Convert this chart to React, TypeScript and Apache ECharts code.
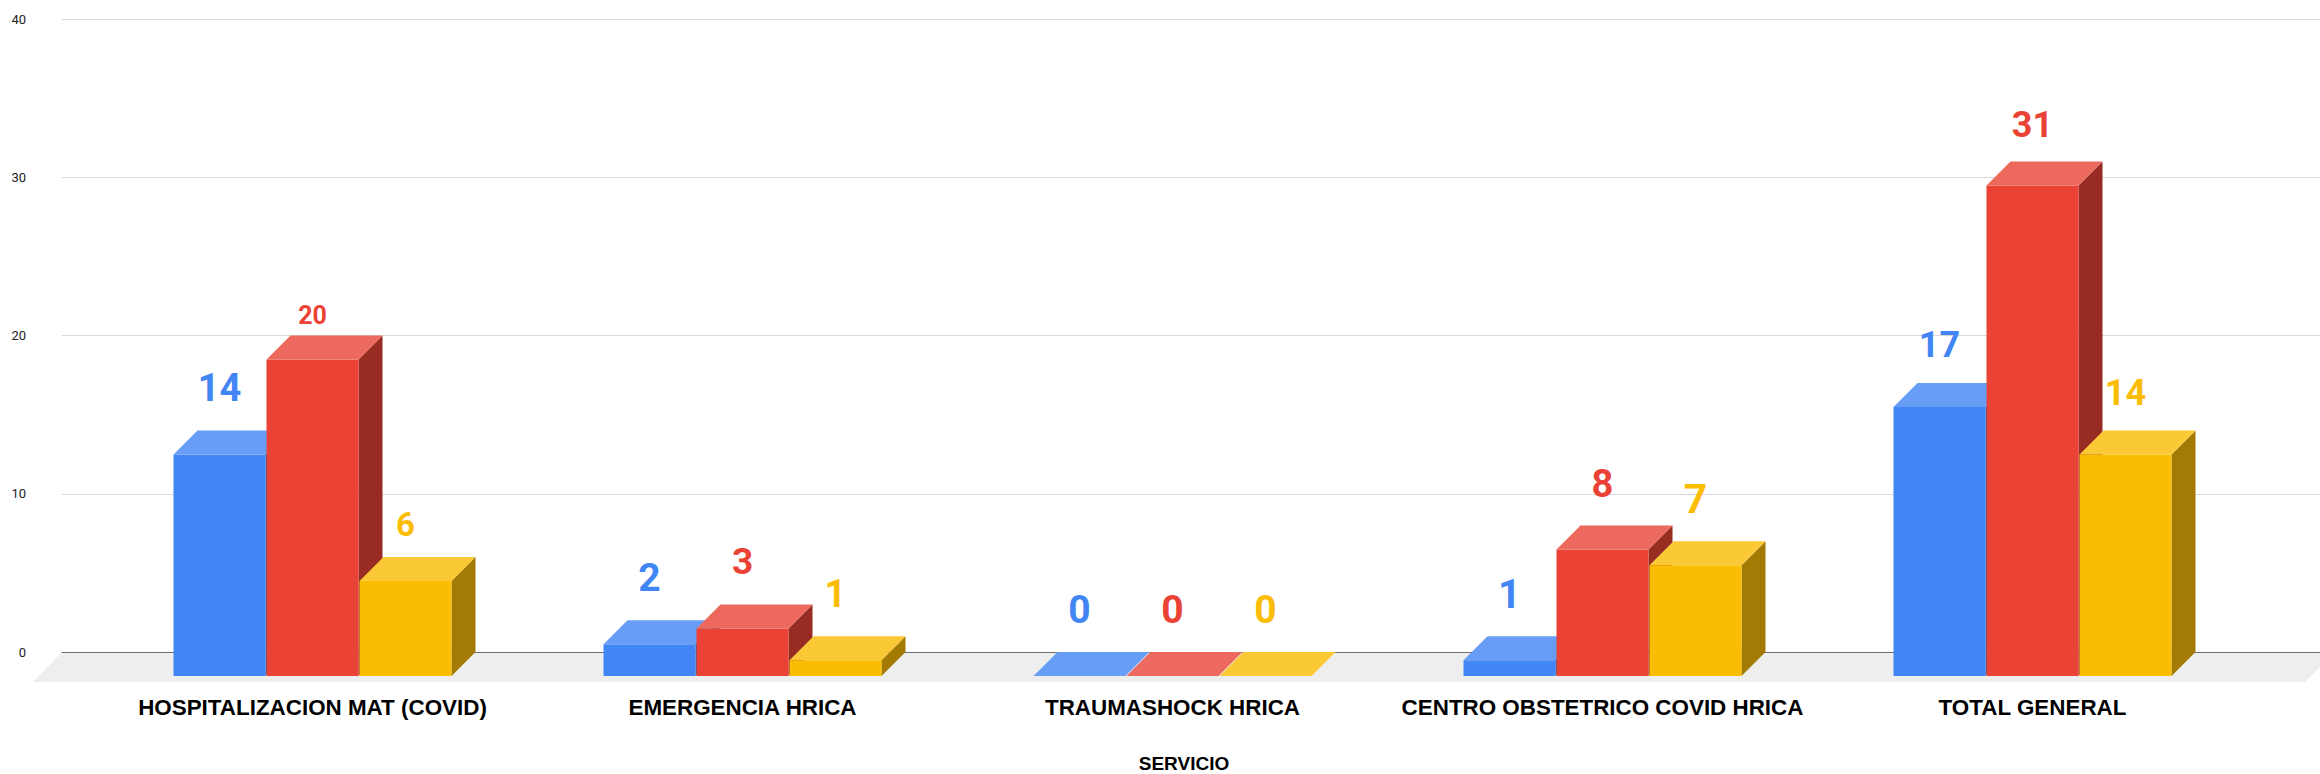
import React, { useEffect, useRef } from "react";
import * as echarts from "echarts";

// ---- data ----
const categories = [
  "HOSPITALIZACION MAT (COVID)",
  "EMERGENCIA HRICA",
  "TRAUMASHOCK HRICA",
  "CENTRO OBSTETRICO COVID HRICA",
  "TOTAL GENERAL",
];
const seriesNames = ["Serie 1", "Serie 2", "Serie 3"];
const blueValues = [14, 2, 0, 1, 17];
const redValues = [20, 3, 0, 8, 31];
const yellowValues = [6, 1, 0, 7, 14];
const yTicks = [0, 10, 20, 30, 40];
const axisTitle = "SERVICIO";

// ---- styles ----
const palette = [
  { front: "#4285F4", top: "#689DF6", side: "#2B579F" },
  { front: "#EA4335", top: "#EE695D", side: "#982B22" },
  { front: "#FBBC04", top: "#FCC936", side: "#A37A03" },
];
const labelSizes = [
  [38, 39, 39, 40, 36],
  [25, 37, 39, 38, 36],
  [33, 38, 39, 41, 36],
];
const labelLifts = [
  [42.8, 42.2, 42.5, 42, 37.8],
  [20.3, 43, 42.5, 41.8, 36.5],
  [33, 41.8, 42.5, 42.3, 37],
];

const W = 2320;
const H = 774;
const DX = 24;
const DY = 24;
const BAR_W = 92;
const BAR_GAP = 1;
const BACK_LEFT = 62;
const BACK_TOP = 19;
const BACK_ZERO = 652;

export default function App() {
  const ref = useRef<HTMLDivElement>(null);

  useEffect(() => {
    if (!ref.current) return;
    const chart = echarts.init(ref.current, undefined, { renderer: "svg" });
    const allValues = [blueValues, redValues, yellowValues];

    const makeSeries = (s: number) => ({
      type: "custom",
      name: seriesNames[s],
      xAxisIndex: 1,
      yAxisIndex: 1,
      z: 2,
      data: allValues[s].map((v, i) => [i, v]),
      encode: { x: 0, y: 1 },
      renderItem: (params: any, api: any) => {
        const i = api.value(0);
        const v = api.value(1);
        const top = api.coord([i, v]);
        const base = api.coord([i, 0]);
        const cx = top[0];
        const yTop = top[1];
        const y0 = base[1];
        const x0 = cx + (s - 1) * (BAR_W + BAR_GAP) - BAR_W / 2;
        const x1 = x0 + BAR_W;
        const c = palette[s];
        const fs = labelSizes[s][params.dataIndex];
        const lift = labelLifts[s][params.dataIndex];
        return {
          type: "group",
          children: [
            {
              type: "polygon",
              shape: {
                points: [
                  [x1, yTop],
                  [x1 + DX, yTop - DY],
                  [x1 + DX, y0 - DY],
                  [x1, y0],
                ],
              },
              style: { fill: c.side },
            },
            {
              type: "rect",
              shape: { x: x0, y: yTop, width: BAR_W, height: Math.max(0, y0 - yTop) },
              style: { fill: c.front },
            },
            {
              type: "polygon",
              shape: {
                points: [
                  [x0, yTop],
                  [x1, yTop],
                  [x1 + DX, yTop - DY],
                  [x0 + DX, yTop - DY],
                ],
              },
              style: { fill: c.top },
            },
            {
              type: "text",
              x: x0 + BAR_W / 2,
              y: yTop - DY - lift,
              z2: 100,
              style: {
                text: String(v),
                fill: c.front,
                fontSize: fs,
                fontWeight: "bold",
                fontFamily: "Roboto",
                align: "center",
                verticalAlign: "middle",
              },
            },
          ],
        };
      },
    });

    chart.setOption({
      animation: false,
      backgroundColor: "#ffffff",
      grid: [
        { left: BACK_LEFT, right: 0, top: BACK_TOP, bottom: H - BACK_ZERO },
        { left: 97.5, right: 72.5, top: BACK_TOP + DY, bottom: H - BACK_ZERO - DY },
      ],
      xAxis: [
        {
          type: "value",
          gridIndex: 0,
          min: 0,
          max: 1,
          axisLine: { show: true, lineStyle: { color: "#6f6f6f", width: 1 } },
          axisTick: { show: false },
          axisLabel: { show: false },
          splitLine: { show: false },
        },
        {
          type: "category",
          gridIndex: 1,
          data: categories,
          axisLine: { show: false },
          axisTick: { show: false },
          splitLine: { show: false },
          axisLabel: {
            interval: 0,
            margin: 20,
            fontSize: 22.4,
            fontWeight: "bold",
            color: "#000000",
            fontFamily: "Liberation Sans",
          },
        },
      ],
      yAxis: [
        {
          type: "value",
          gridIndex: 0,
          min: yTicks[0],
          max: yTicks[yTicks.length - 1],
          interval: yTicks[1] - yTicks[0],
          axisLine: { show: false },
          axisTick: { show: false },
          axisLabel: {
            margin: 36,
            fontSize: 13,
            color: "#222222",
            fontFamily: "Roboto",
          },
          splitLine: { show: true, lineStyle: { color: "#d9d9d9", width: 1 } },
        },
        {
          type: "value",
          gridIndex: 1,
          min: yTicks[0],
          max: yTicks[yTicks.length - 1],
          interval: yTicks[1] - yTicks[0],
          show: false,
          splitLine: { show: false },
        },
      ],
      graphic: [
        {
          type: "polygon",
          z: -1,
          silent: true,
          shape: {
            points: [
              [BACK_LEFT, BACK_ZERO],
              [W + 15, BACK_ZERO],
              [W - 15, BACK_ZERO + 30],
              [BACK_LEFT - 29, BACK_ZERO + 30],
            ],
          },
          style: { fill: "#eeeeee" },
        },
        {
          type: "text",
          x: 1184,
          y: 763.5,
          style: {
            text: axisTitle,
            fontSize: 19,
            fontWeight: "bold",
            fill: "#000000",
            fontFamily: "Liberation Sans",
            align: "center",
            verticalAlign: "middle",
          },
        },
      ],
      series: [makeSeries(0), makeSeries(1), makeSeries(2)],
    });

    return () => chart.dispose();
  }, []);

  return (
    <div
      ref={ref}
      style={{ position: "absolute", left: 0, top: 0, width: W, height: H }}
    />
  );
}
